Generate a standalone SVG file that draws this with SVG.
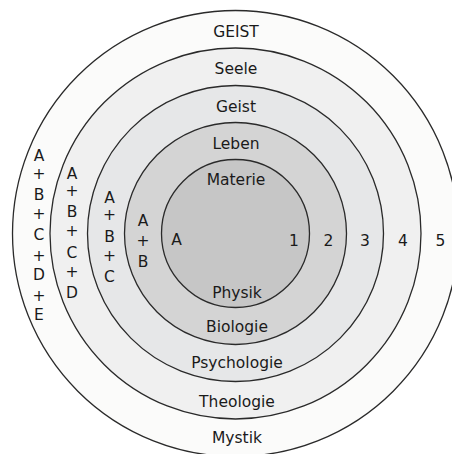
<svg xmlns="http://www.w3.org/2000/svg" width="452" height="454" viewBox="0 0 452 454">
<style>
text{font-family:"DejaVu Sans","Liberation Sans",sans-serif;font-size:15.5px;fill:#1a1a1a;text-anchor:middle}
.ring{stroke:#2a2a2a;stroke-width:1.3}
</style>
<rect width="452" height="454" fill="#ffffff"/>
<g id="rings">
<circle id="ring5" class="ring" cx="235.5" cy="233.5" r="223" fill="#fbfbfa"/>
<circle id="ring4" class="ring" cx="235.5" cy="233.5" r="185.5" fill="#f0f0f0"/>
<circle id="ring3" class="ring" cx="235.5" cy="233.5" r="148" fill="#e6e7e8"/>
<circle id="ring2" class="ring" cx="235.5" cy="233.5" r="111" fill="#d4d4d4"/>
<circle id="ring1" class="ring" cx="235.5" cy="233.5" r="74" fill="#c6c6c6"/>
</g>
<g id="labels-top">
<text x="236" y="37">GEIST</text>
<text x="236" y="74">Seele</text>
<text x="236" y="111.5">Geist</text>
<text x="236" y="149">Leben</text>
<text x="236" y="185">Materie</text>
</g>
<g id="labels-bottom">
<text x="237" y="298">Physik</text>
<text x="237" y="331.5">Biologie</text>
<text x="237" y="368">Psychologie</text>
<text x="237" y="406.5">Theologie</text>
<text x="237" y="443">Mystik</text>
</g>
<g id="numbers">
<text x="294" y="245.5">1</text>
<text x="328.5" y="245.5">2</text>
<text x="365" y="245.5">3</text>
<text x="403" y="245.5">4</text>
<text x="440.5" y="245.5">5</text>
</g>
<g id="formulas">
<text x="176.5" y="245">A</text>
<text x="143" y="226">A</text><text x="143" y="246">+</text><text x="143" y="267">B</text>
<text x="109.5" y="202.5">A</text><text x="109.5" y="220">+</text><text x="109.5" y="242">B</text><text x="109.5" y="261">+</text><text x="109.5" y="282">C</text>
<text x="72" y="178.5">A</text><text x="72" y="196">+</text><text x="72" y="216.5">B</text><text x="72" y="236">+</text><text x="72" y="258">C</text><text x="72" y="277">+</text><text x="72" y="298">D</text>
<text x="39" y="160.5">A</text><text x="39" y="179">+</text><text x="39" y="199.5">B</text><text x="39" y="219">+</text><text x="39" y="240">C</text><text x="39" y="260.5">+</text><text x="39" y="280">D</text><text x="39" y="300.5">+</text><text x="39" y="320">E</text>
</g>
</svg>
